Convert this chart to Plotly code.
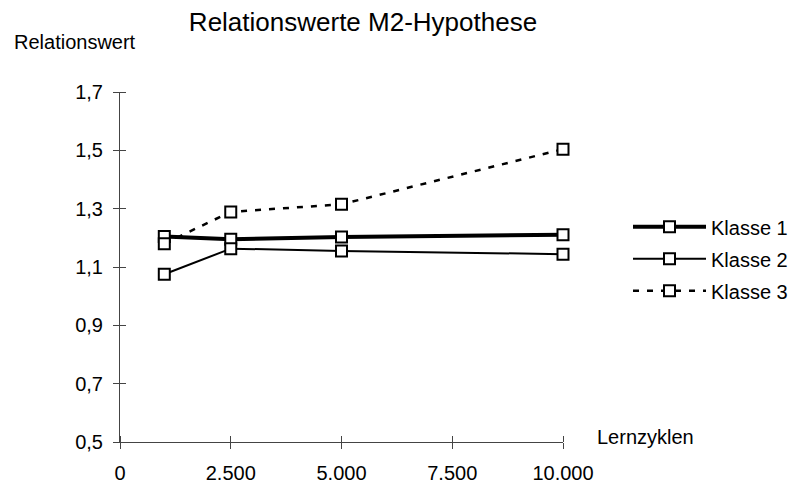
import plotly.graph_objects as go

# Data
lernzyklen = [1000, 2500, 5000, 10000]
klasse_1 = [1.205, 1.195, 1.203, 1.211]
klasse_2 = [1.075, 1.163, 1.155, 1.144]
klasse_3 = [1.18, 1.289, 1.315, 1.504]
y_ticks = [0.5, 0.7, 0.9, 1.1, 1.3, 1.5, 1.7]
x_ticks = [0, 2500, 5000, 7500, 10000]

FONT = "Liberation Sans, Arial, sans-serif"
marker = dict(symbol="square", size=11, color="white", line=dict(color="black", width=2))

fig = go.Figure()
fig.add_trace(go.Scatter(x=lernzyklen, y=klasse_1, name="Klasse 1", mode="lines+markers",
                         legendgroup="k1", cliponaxis=False,
                         line=dict(color="black", width=4), marker=marker))
fig.add_trace(go.Scatter(x=lernzyklen, y=klasse_2, name="Klasse 2", mode="lines+markers",
                         legendgroup="k2", cliponaxis=False,
                         line=dict(color="black", width=2), marker=marker))
fig.add_trace(go.Scatter(x=lernzyklen, y=klasse_3, name="Klasse 3", mode="lines+markers",
                         legendgroup="k3", cliponaxis=False,
                         line=dict(color="black", width=2.5, dash="6px,8px"), marker=marker))

axis_common = dict(showgrid=False, zeroline=False, showline=True, linecolor="#444",
                   linewidth=1, ticks="outside", ticklen=6, tickcolor="#444", tickwidth=1,
                   automargin=False,
                   tickfont=dict(family=FONT, size=20, color="black"))

fig.update_layout(
    width=795, height=485,
    margin=dict(l=120, r=232, t=92, b=43, autoexpand=False),
    paper_bgcolor="white", plot_bgcolor="white",
    separators=",.",
    font=dict(family=FONT, size=20, color="black"),
    title=dict(text="Relationswerte M2-Hypothese", x=363 / 795, xanchor="center",
               y=1 - 22 / 485, yanchor="middle", font=dict(family=FONT, size=26, color="black")),
    xaxis=dict(range=[0, 10000], tickvals=x_ticks, tickformat=",d", ticklabelstandoff=7,
               minor=dict(tickmode="array", tickvals=x_ticks, ticks="inside", ticklen=6,
                          tickcolor="#444", tickwidth=1),
               **axis_common),
    yaxis=dict(range=[0.5, 1.7], tickvals=y_ticks, tickformat=".1f", ticklabelstandoff=6,
               minor=dict(tickmode="array", tickvals=y_ticks, ticks="inside", ticklen=6,
                          tickcolor="#444", tickwidth=1),
               **axis_common),
    legend=dict(x=(628 - 120) / 443, y=(441.7 - 258.5) / 350, xanchor="left", yanchor="middle",
                bgcolor="rgba(0,0,0,0)", font=dict(family=FONT, size=20, color="black"),
                tracegroupgap=3, itemwidth=73),
    showlegend=True,
    annotations=[
        dict(text="Relationswert", xref="paper", yref="paper", x=-108 / 443, y=1 + 50 / 350,
             xanchor="left", yanchor="middle", showarrow=False,
             font=dict(family=FONT, size=20, color="black")),
        dict(text="Lernzyklen", xref="paper", yref="paper", x=1 + 32 / 443, y=5 / 350,
             xanchor="left", yanchor="middle", showarrow=False,
             font=dict(family=FONT, size=20, color="black")),
    ],
)

fig.write_html("out.html")
